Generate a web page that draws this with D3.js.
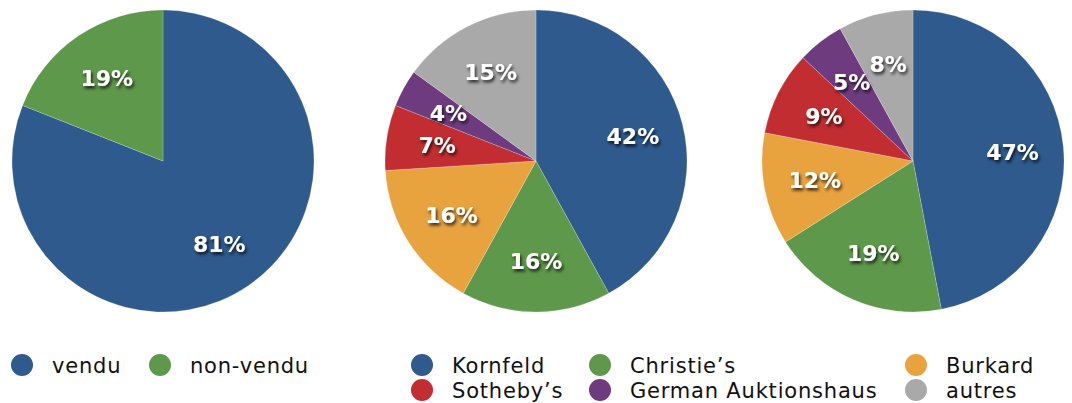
<!DOCTYPE html>
<html>
<head>
<meta charset="utf-8">
<script src="https://cdn.jsdelivr.net/npm/d3@7"></script>
<style>
body { margin: 0; background: #fff; }
svg { display: block; }
</style>
</head>
<body>
<script>
var width = 1072
var height = 403
var radius = 151
var label_radius = 100

// data
var sold_labels = ["vendu", "non-vendu"]
var sold_values = [81, 19]
var house_labels = ["Kornfeld", "Christie\u2019s", "Burkard", "Sotheby\u2019s", "German Auktionshaus", "autres"]
var house_values_a = [42, 16, 16, 7, 4, 15]
var house_values_b = [47, 19, 12, 9, 5, 8]

var colors = {
  "vendu": "#2e5a8d", "non-vendu": "#5e984a",
  "Kornfeld": "#2e5a8d", "Christie\u2019s": "#5e984a", "Burkard": "#e8a33f",
  "Sotheby\u2019s": "#c12d31", "German Auktionshaus": "#6e3b7e", "autres": "#a9a9a9"
}

var svg = d3.select("body").append("svg")
  .attr("width", width)
  .attr("height", height)

var defs = svg.append("defs")
defs.append("filter")
  .attr("id", "shadow")
  .attr("x", "-30%").attr("y", "-30%").attr("width", "160%").attr("height", "160%")
  .append("feDropShadow")
  .attr("dx", 1.5).attr("dy", 2.5).attr("stdDeviation", 1.8)
  .attr("flood-color", "#000").attr("flood-opacity", 0.75)

var pie = d3.pie().sort(null).value(function(d) { return d.value })
var arc = d3.arc().innerRadius(0).outerRadius(radius)
var label_arc = d3.arc().innerRadius(label_radius).outerRadius(label_radius)

function draw_pie(cx, cy, labels, values) {
  var data = labels.map(function(l, i) { return { label: l, value: values[i] } })
  var g = svg.append("g").attr("transform", "translate(" + cx + "," + cy + ")")

  g.selectAll("path")
    .data(pie(data))
    .enter().append("path")
    .attr("d", arc)
    .attr("fill", function(d) { return colors[d.data.label] })
    .attr("stroke", "rgba(255,255,255,0.35)")
    .attr("stroke-width", 0.6)

  g.selectAll("text")
    .data(pie(data))
    .enter().append("text")
    .attr("transform", function(d) { return "translate(" + label_arc.centroid(d) + ")" })
    .attr("text-anchor", "middle")
    .attr("dy", "0.36em")
    .attr("fill", "#fff")
    .attr("filter", "url(#shadow)")
    .style("font-family", "'DejaVu Sans', sans-serif")
    .style("font-weight", "bold")
    .style("font-size", "22px")
    .text(function(d) { return d.data.value + "%" })
}

draw_pie(163, 161, sold_labels, sold_values)
draw_pie(536, 161, house_labels, house_values_a)
draw_pie(913, 161, house_labels, house_values_b)

function legend_item(x, y, label) {
  var g = svg.append("g").attr("transform", "translate(" + x + "," + y + ")")
  g.append("circle")
    .attr("r", 11)
    .attr("fill", colors[label])
  g.append("text")
    .attr("x", 30)
    .attr("dy", "0.36em")
    .attr("fill", "#111")
    .style("font-family", "'DejaVu Sans', sans-serif")
    .style("font-size", "21px")
    .style("letter-spacing", "0.8px")
    .text(label)
}

legend_item(22, 365, sold_labels[0])
legend_item(160, 365, sold_labels[1])

var legend_x = [422, 600, 916]
var legend_y = [365, 390]
house_labels.forEach(function(l, i) {
  legend_item(legend_x[i % 3], legend_y[Math.floor(i / 3)], l)
})
</script>
</body>
</html>
